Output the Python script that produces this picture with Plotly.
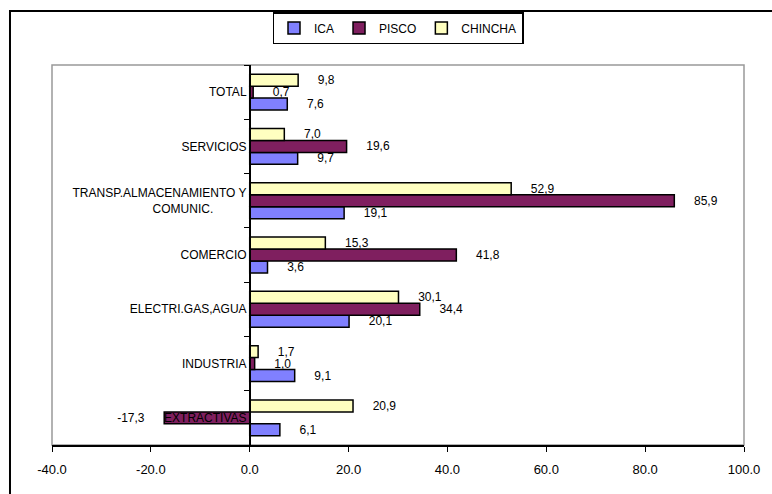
import plotly.graph_objects as go

NB = "\u00a0"

categories = ["EXTRACTIVAS", "INDUSTRIA", "ELECTRI.GAS,AGUA", "COMERCIO",
              "TRANSP.ALMACENAMIENTO Y<br>COMUNIC." + NB * 10, "SERVICIOS", "TOTAL"]
ica = [6.1, 9.1, 20.1, 3.6, 19.1, 9.7, 7.6]
pisco = [-17.3, 1.0, 34.4, 41.8, 85.9, 19.6, 0.7]
chincha = [20.9, 1.7, 30.1, 15.3, 52.9, 7.0, 9.8]
x_ticks = [-40, -20, 0, 20, 40, 60, 80, 100]


def lab(v):
    s = f"{v:.1f}".replace(".", ",")
    return s + NB * 5 if v < 0 else NB * 5 + s


series = [("ICA", ica, "#8080FF"), ("PISCO", pisco, "#7F1F5F"), ("CHINCHA", chincha, "#FFFFC0")]

fig = go.Figure()
for name, vals, col in series:
    fig.add_trace(go.Bar(
        name=name, y=categories, x=vals, orientation="h",
        marker=dict(color=col, line=dict(color="black", width=1.5)),
        text=[lab(v) for v in vals], textposition="outside",
        textfont=dict(family="Liberation Sans, Arial", size=12, color="black"),
        constraintext="none", cliponaxis=False,
    ))

fig.update_layout(
    width=772, height=494,
    margin=dict(l=52, r=28, t=65, b=49),
    paper_bgcolor="white", plot_bgcolor="white",
    barmode="group", bargap=0.34, bargroupgap=0,
    font=dict(family="Liberation Sans, Arial", size=12, color="black"),
    showlegend=True,
    legend=dict(orientation="h", x=0.5, xanchor="center", y=1.055, yanchor="bottom",
                bordercolor="black", borderwidth=1.5, bgcolor="white",
                font=dict(size=12), itemwidth=30, traceorder="normal",
                tracegroupgap=0),
    xaxis=dict(range=[-40, 100], tickvals=x_ticks, ticktext=[f"{v:.1f}" for v in x_ticks],
               showgrid=False, zeroline=False, showline=True, linecolor="black", linewidth=1.5,
               ticks="outside", ticklen=5, tickcolor="black", tickfont=dict(size=13),
               ticklabelstandoff=7, fixedrange=True),
    yaxis=dict(anchor="free", position=40 / 140, showgrid=False, zeroline=False,
               showline=True, linecolor="black", linewidth=1.5,
               ticks="outside", tickson="boundaries", ticklen=5, tickcolor="black",
               tickfont=dict(size=12), categoryorder="array", categoryarray=categories,
               fixedrange=True),
    shapes=[
        dict(type="rect", xref="paper", yref="paper", x0=0, x1=1, y0=0, y1=1,
             line=dict(color="#999999", width=1.5), layer="below"),
        dict(type="rect", xref="paper", yref="paper", x0=-0.0607, x1=1.1, y0=-0.3, y1=1.142,
             line=dict(color="black", width=2), layer="below"),
    ],
)

fig.write_html("out.html", config={"displayModeBar": False},
               post_script="document.body.style.margin='0';document.body.style.padding='0';")
